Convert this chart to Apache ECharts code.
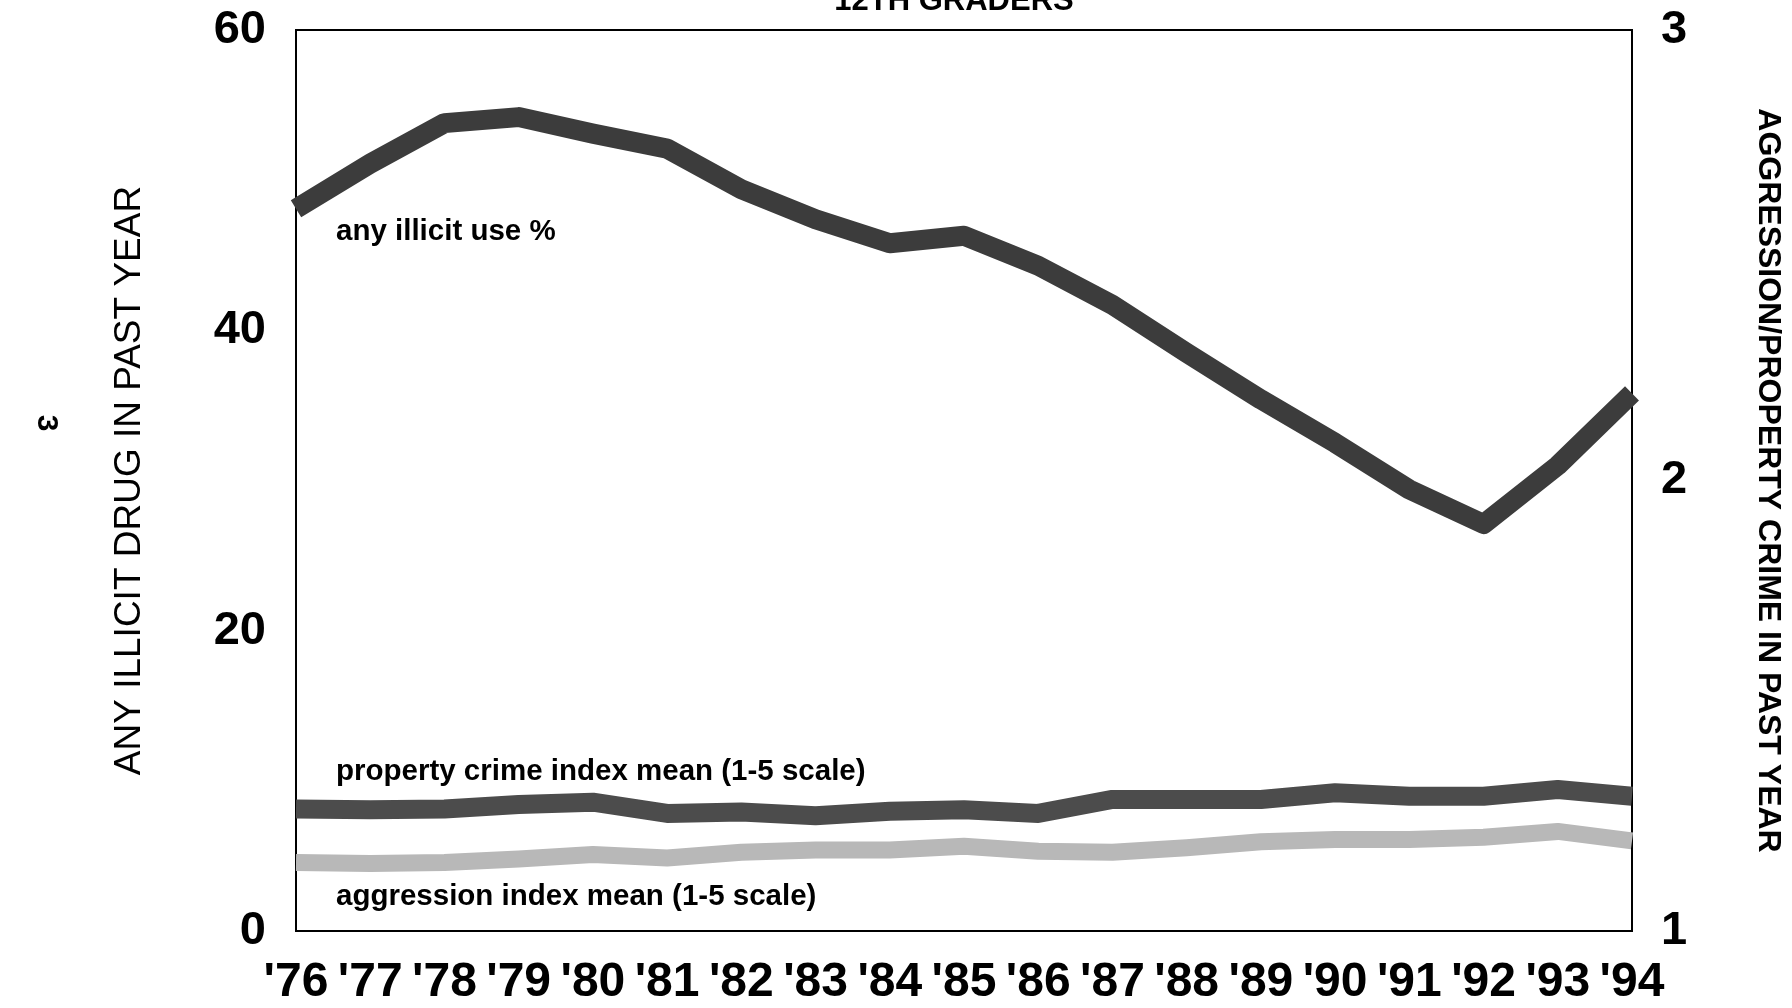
<!DOCTYPE html>
<html>
<head>
<meta charset="utf-8">
<script src="https://cdn.jsdelivr.net/npm/echarts@6/dist/echarts.min.js"></script>
<style>
html,body{margin:0;padding:0;background:#fff;}
#chart{width:1792px;height:1008px;}
</style>
</head>
<body>
<div id="chart"></div>
<script>
const years = ["'76","'77","'78","'79","'80","'81","'82","'83","'84","'85","'86","'87","'88","'89","'90","'91","'92","'93","'94"];
const anyIllicitUse = [48.1,51.1,53.8,54.2,53.1,52.1,49.4,47.4,45.8,46.3,44.3,41.7,38.5,35.4,32.5,29.4,27.1,31.0,35.8];
const propertyCrimeIndex = [1.271,1.269,1.271,1.281,1.286,1.261,1.264,1.256,1.266,1.269,1.261,1.292,1.292,1.292,1.307,1.299,1.299,1.314,1.299];
const aggressionIndex = [1.152,1.150,1.152,1.160,1.170,1.162,1.175,1.180,1.180,1.188,1.177,1.175,1.185,1.198,1.203,1.203,1.208,1.221,1.200];
const leftTicks = [0, 20, 40, 60];
const rightTicks = [1, 2, 3];

const chart = echarts.init(document.getElementById('chart'));
const option = {
  backgroundColor: '#ffffff',
  animation: false,
  grid: {left: 296, right: 158, top: 30, bottom: 77, show: true, borderColor: '#000', borderWidth: 2, backgroundColor: 'transparent'},
  xAxis: {
    type: 'category', data: years, boundaryGap: false,
    axisLine: {show: true, lineStyle: {color: '#000', width: 2}},
    axisTick: {show: false},
    axisLabel: {color: '#000', fontFamily: 'Liberation Sans', fontWeight: 'bold', fontSize: 48, margin: 28, interval: 0}
  },
  yAxis: [
    {
      type: 'value', min: leftTicks[0], max: leftTicks[leftTicks.length-1], interval: 20,
      name: 'ANY ILLICIT DRUG IN PAST YEAR', nameLocation: 'middle', nameGap: 148, nameRotate: 90,
      nameTextStyle: {color: '#000', fontFamily: 'Liberation Sans', fontSize: 37},
      axisLine: {show: true, lineStyle: {color: '#000', width: 2}},
      axisTick: {show: false}, splitLine: {show: false},
      axisLabel: {color: '#000', fontFamily: 'Liberation Sans', fontWeight: 'bold', fontSize: 47, margin: 30}
    },
    {
      type: 'value', min: rightTicks[0], max: rightTicks[rightTicks.length-1], interval: 1, position: 'right',
      name: 'AGGRESSION/PROPERTY CRIME IN PAST YEAR', nameLocation: 'middle', nameGap: 120, nameRotate: -90,
      nameTextStyle: {color: '#000', fontFamily: 'Liberation Sans', fontWeight: 'bold', fontSize: 32},
      axisLine: {show: true, lineStyle: {color: '#000', width: 2}},
      axisTick: {show: false}, splitLine: {show: false},
      axisLabel: {color: '#000', fontFamily: 'Liberation Sans', fontWeight: 'bold', fontSize: 47, margin: 29}
    }
  ],
  series: [
    {name: 'any illicit use %', type: 'line', yAxisIndex: 0, data: anyIllicitUse, symbol: 'none', smooth: false,
     lineStyle: {color: '#3c3c3c', width: 20, cap: 'butt', join: 'round'}},
    {name: 'property crime index mean (1-5 scale)', type: 'line', yAxisIndex: 1, data: propertyCrimeIndex, symbol: 'none',
     lineStyle: {color: '#4c4c4c', width: 19, cap: 'butt', join: 'round'}},
    {name: 'aggression index mean (1-5 scale)', type: 'line', yAxisIndex: 1, data: aggressionIndex, symbol: 'none',
     lineStyle: {color: '#b8b8b8', width: 17, cap: 'butt', join: 'round'}}
  ],
  graphic: [
    {type: 'text', left: 336, top: 217, style: {text: 'any illicit use %', fill: '#000', font: 'bold 29.5px "Liberation Sans"'}},
    {type: 'text', left: 336, top: 757, style: {text: 'property crime index mean (1-5 scale)', fill: '#000', font: 'bold 29.5px "Liberation Sans"'}},
    {type: 'text', left: 336, top: 882, style: {text: 'aggression index mean (1-5 scale)', fill: '#000', font: 'bold 29.5px "Liberation Sans"'}},
    {type: 'text', x: 954, y: -14, style: {text: '12TH GRADERS', fill: '#000', font: 'bold 31px "Liberation Sans"', textAlign: 'center', textVerticalAlign: 'top'}},
    {type: 'text', x: 46, y: 423, rotation: -Math.PI/2, style: {text: '3', fill: '#000', font: 'bold 30px "Liberation Sans"', textAlign: 'center', textVerticalAlign: 'middle'}}
  ]
};
chart.setOption(option);
</script>
</body>
</html>
